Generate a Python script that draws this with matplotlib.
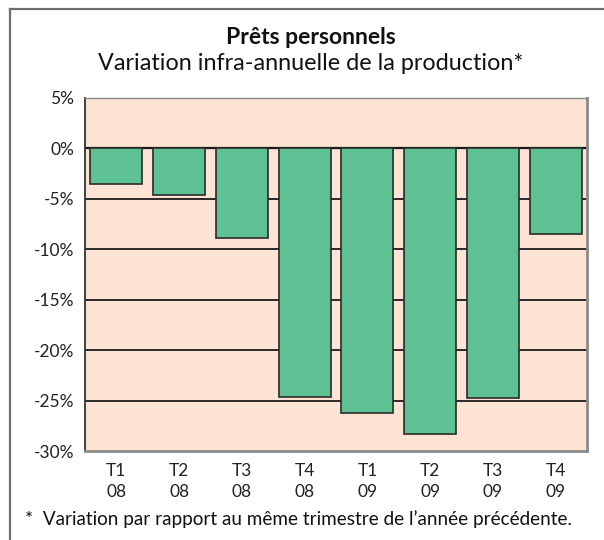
import matplotlib
matplotlib.use("Agg")
import matplotlib.pyplot as plt
from matplotlib.lines import Line2D

categories = ["T1\n08", "T2\n08", "T3\n08", "T4\n08", "T1\n09", "T2\n09", "T3\n09", "T4\n09"]
values = [-3.5, -4.6, -8.9, -24.6, -26.2, -28.3, -24.7, -8.5]
yticks = [5, 0, -5, -10, -15, -20, -25, -30]

plt.rcParams['font.family'] = ['Lato', 'DejaVu Sans']

W, H = 604, 540
fig = plt.figure(figsize=(W/100, H/100), dpi=100)
fig.patch.set_facecolor('white')

# outer frame (left and top only)
fig.add_artist(Line2D([10/W, 10/W], [0, 1 - 8.5/H], transform=fig.transFigure, color='#6e6e6e', lw=1.6))
fig.add_artist(Line2D([10/W, 1], [1 - 8.5/H, 1 - 8.5/H], transform=fig.transFigure, color='#6e6e6e', lw=1.6))

left, right, top, bottom = 85, 587, 98, 451
ax = fig.add_axes([left/W, 1 - bottom/H, (right-left)/W, (bottom-top)/H])
ax.set_facecolor('#fde3d3')

x = list(range(len(categories)))
ax.set_xlim(-0.5, len(categories) - 0.5)
ax.set_ylim(-30, 5)

for t in yticks:
    if -30 < t < 5:
        ax.axhline(t, color='#1a1a1a', lw=1.6 if t == 0 else 1.3, zorder=1)

ax.bar(x, values, width=0.83, color='#5ec194', edgecolor='#2a2a2a', linewidth=1.2, zorder=2)

ax.set_yticks(yticks)
ax.set_yticklabels([f"{t}%" for t in yticks], fontsize=12.5, color='#222222')
ax.set_xticks(x)
ax.set_xticklabels(categories, fontsize=12.5, color='#222222', linespacing=1.35)
ax.tick_params(axis='both', length=0)
ax.tick_params(axis='y', pad=8)
ax.tick_params(axis='x', pad=9)

ax.spines['left'].set_color('#333333')
ax.spines['left'].set_linewidth(1.3)
ax.spines['top'].set_color('#8a8a8a')
ax.spines['top'].set_linewidth(1.0)
ax.spines['right'].set_color('#8a8a8a')
ax.spines['right'].set_linewidth(2.0)
ax.spines['bottom'].set_color('#8a8a8a')
ax.spines['bottom'].set_linewidth(2.0)

fig.text(311/W, 1 - 38/H, "Prêts personnels", ha='center', va='center', fontsize=16.5, fontweight='bold', color='#111111')
fig.text(311/W, 1 - 64/H, "Variation infra-annuelle de la production*", ha='center', va='center', fontsize=16.8, color='#111111')
fig.text(25/W, 1 - 519/H, "*  Variation par rapport au même trimestre de l\u2019année précédente.", ha='left', va='center', fontsize=13.6, color='#111111')

fig.savefig("out.png", dpi=100)
